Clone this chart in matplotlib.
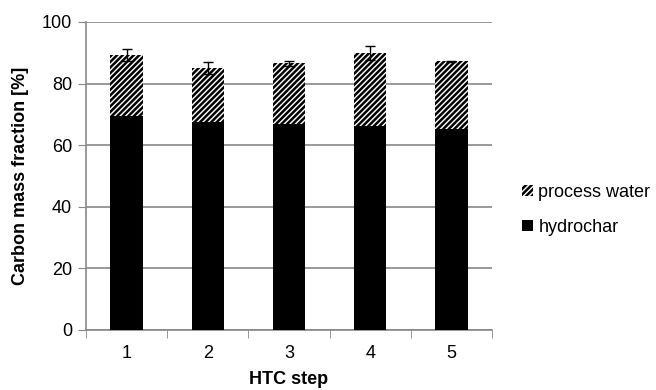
import matplotlib.pyplot as plt
import numpy as np

plt.rcParams['font.family'] = ['Liberation Sans', 'DejaVu Sans']
plt.rcParams['hatch.linewidth'] = 1.8

steps = ['1', '2', '3', '4', '5']
hydrochar = [69.5, 67.6, 66.9, 66.2, 65.3]
hydrochar_err = [0.5, 2.5, 1.5, 0.6, 0.3]
process_water = [19.7, 17.4, 19.7, 23.8, 21.9]
total_err = [1.9, 2.0, 0.8, 2.2, 0.2]

fig = plt.figure(figsize=(6.56, 3.9), dpi=100)
ax = fig.add_axes([86 / 656, 60 / 390, 406 / 656, 308 / 390])

x = np.arange(len(steps))
totals = np.array(hydrochar) + np.array(process_water)

ax.bar(x, hydrochar, width=0.4, color='black', label='hydrochar', zorder=3)
ax.bar(x, process_water, width=0.4, bottom=hydrochar, color='white', edgecolor='black',
       hatch='//////', linewidth=0, label='process water', zorder=3)
ax.errorbar(x, hydrochar, yerr=hydrochar_err, fmt='none', ecolor='black', elinewidth=1,
            capsize=3.5, capthick=1, zorder=2)
ax.errorbar(x, totals, yerr=total_err, fmt='none', ecolor='black', elinewidth=1,
            capsize=3.5, capthick=1, zorder=4)

ax.set_xlim(-0.5, len(steps) - 0.5)
ax.set_ylim(0, 100)
ax.set_yticks([0, 20, 40, 60, 80, 100])
ax.set_xticks(x)
ax.set_xticklabels(steps)
ax.set_xticks(np.arange(len(steps) + 1) - 0.5, minor=True)
ax.tick_params(axis='x', which='major', length=0, labelsize=13, pad=11)
ax.tick_params(axis='x', which='minor', length=6, color='#888888', direction='out')
ax.tick_params(axis='y', length=6, color='#888888', direction='out', labelsize=13, pad=4)

ax.grid(axis='y', color='#888888', linewidth=1.2, zorder=0)
ax.set_axisbelow(True)
for s in ['top', 'right']:
    ax.spines[s].set_visible(False)
for s in ['left', 'bottom']:
    ax.spines[s].set_color('#888888')
    ax.spines[s].set_linewidth(1.2)

ax.set_xlabel('HTC step', fontsize=13, fontweight='bold', labelpad=6)
ax.set_ylabel('Carbon mass fraction [%]', fontsize=13, fontweight='bold', labelpad=9)

handles, labels = ax.get_legend_handles_labels()
fig.legend(handles[::-1], labels[::-1], loc='center left', bbox_to_anchor=(506 / 656, 1 - 210 / 390),
           frameon=False, fontsize=13, handlelength=0.6, handleheight=0.6, handletextpad=0.3,
           labelspacing=1.0)

fig.savefig('out.png', dpi=100)
